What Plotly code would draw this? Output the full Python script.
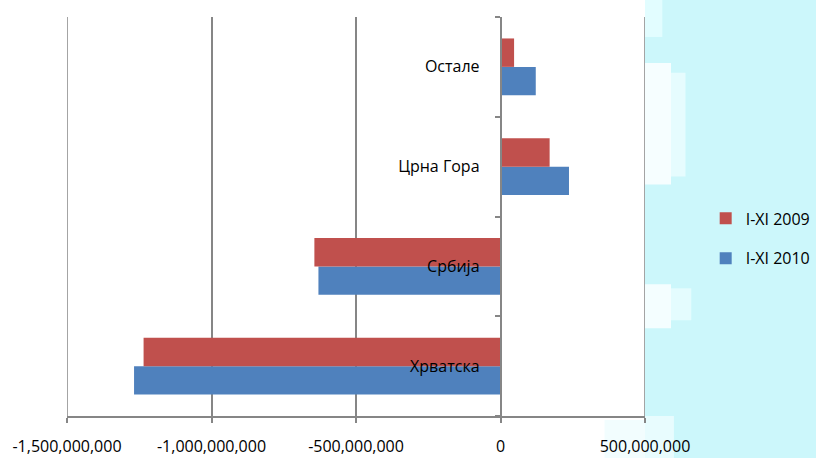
import plotly.graph_objects as go

categories = ["Хрватска", "Србија", "Црна Гора", "Остале"]
values_2009 = [-1235000000, -644000000, 170000000, 47000000]
values_2010 = [-1268000000, -630000000, 237000000, 122000000]
series_names = ["I-XI 2009", "I-XI 2010"]
x_tickvals = [-1500000000, -1000000000, -500000000, 0, 500000000]
x_ticktext = ["-1,500,000,000", "-1,000,000,000", "-500,000,000", "0", "500,000,000"]

FONT = "Open Sans"
FS = 16
GRID = "#868686"

fig = go.Figure()
fig.add_trace(go.Bar(
    y=categories, x=values_2010, orientation="h", name=series_names[1],
    marker=dict(color="#4F81BD", line=dict(width=0)), legendgroup="b", legendrank=2,
))
fig.add_trace(go.Bar(
    y=categories, x=values_2009, orientation="h", name=series_names[0],
    marker=dict(color="#C0504D", line=dict(width=0)), legendgroup="a", legendrank=1,
))

# light cyan decorative background at right
shapes = [
    dict(type="rect", xref="paper", yref="paper", x0=1.0, x1=1.35, y0=-0.2, y1=1.1,
         fillcolor="#CCF7FB", line=dict(width=0), layer="below"),
]
patches = [
    (1.0, 1.045, 0.58, 0.885, "#F6FEFF"),
    (1.045, 1.07, 0.60, 0.86, "#E6FCFE"),
    (1.0, 1.045, 0.22, 0.33, "#F4FEFF"),
    (1.045, 1.08, 0.24, 0.32, "#E4FCFE"),
    (0.93, 1.0, -0.105, -0.01, "#F2FDFE"),
    (1.0, 1.05, -0.105, 0.0, "#E8FCFE"),
    (1.0, 1.03, 0.95, 1.043, "#E2FDFF"),
]
for x0, x1, y0, y1, c in patches:
    shapes.append(dict(type="rect", xref="paper", yref="paper", x0=x0, x1=x1, y0=y0, y1=y1,
                       fillcolor=c, line=dict(width=0), layer="below"))
# gridlines at both range ends (plotly omits them at the edges)
for xv in (x_tickvals[0], x_tickvals[-1]):
    shapes.append(dict(type="line", xref="x", yref="paper", x0=xv, x1=xv, y0=0, y1=1,
                       line=dict(color=GRID, width=1.5), layer="below"))

fig.update_layout(
    width=816, height=458,
    margin=dict(l=67, r=171, t=17, b=42, autoexpand=False),
    paper_bgcolor="white", plot_bgcolor="rgba(0,0,0,0)",
    barmode="group", bargap=0.43, bargroupgap=0,
    font=dict(family=FONT, size=FS, color="#000000"),
    showlegend=True,
    legend=dict(
        x=1.105, y=0.445, xanchor="left", yanchor="middle",
        traceorder="grouped", tracegroupgap=16,
        font=dict(family=FONT, size=FS, color="#000000"),
        bgcolor="rgba(0,0,0,0)", itemwidth=30,
    ),
    shapes=shapes,
    xaxis=dict(
        range=[x_tickvals[0], x_tickvals[-1]], tickvals=x_tickvals, ticktext=x_ticktext,
        showgrid=True, gridcolor=GRID, gridwidth=1.5,
        showline=True, linecolor=GRID, linewidth=1.5,
        ticks="outside", ticklen=5, tickcolor=GRID, tickwidth=1.5,
        ticklabelstandoff=10, zeroline=False,
        tickfont=dict(family=FONT, size=FS, color="#000000"),
    ),
    yaxis=dict(
        type="category", categoryorder="array", categoryarray=categories,
        anchor="free", position=0.75,
        showgrid=False, zeroline=False,
        showline=True, linecolor=GRID, linewidth=1.5,
        ticks="outside", ticklen=5, tickcolor=GRID, tickwidth=1.5,
        tickson="boundaries", ticklabelstandoff=17,
        tickfont=dict(family=FONT, size=FS, color="#000000"),
    ),
)

fig.write_html(
    "out.html",
    config={"displayModeBar": False},
    post_script="document.body.style.margin='0';document.body.style.overflow='hidden';",
)
